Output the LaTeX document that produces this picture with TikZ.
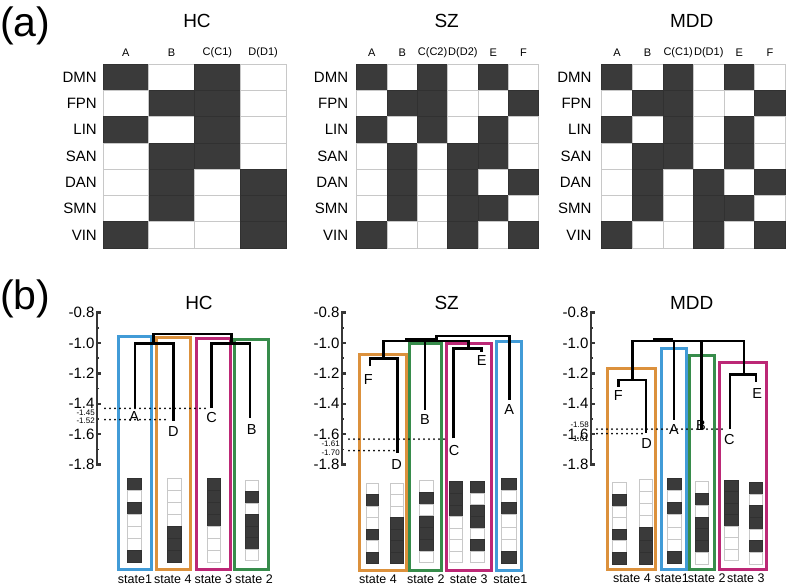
\documentclass[tikz,border=0pt]{standalone}
\usepackage{fontspec}
\setmainfont{Liberation Sans}
\definecolor{celldark}{RGB}{58,58,58}
\definecolor{gridgray}{RGB}{200,200,200}
\definecolor{axgray}{RGB}{55,55,55}
\definecolor{cblue}{RGB}{65,155,215}
\definecolor{corange}{RGB}{220,145,60}
\definecolor{cmag}{RGB}{188,40,118}
\definecolor{cgreen}{RGB}{55,140,75}
\def\patA{1,0,1,0,0,0,1}
\def\patB{0,1,0,1,1,1,0}
\def\patC{1,1,1,1,0,0,0}
\def\patCs{1,1,1,0,0,0,0}
\def\patD{0,0,0,0,1,1,1}
\def\patDs{0,0,0,1,1,1,1}
\def\patE{1,0,1,1,0,1,0}
\def\patF{0,1,0,0,1,0,1}
\tikzset{
  cellw/.style={draw=gridgray, line width=0.7pt, fill=white},
  celld/.style={fill=celldark, draw=celldark!85!black, line width=0.5pt},
  ttl/.style={font=\fontsize{19}{21}\selectfont, inner sep=0pt},
  rowlab/.style={font=\fontsize{15}{17}\selectfont, anchor=east, inner sep=0pt},
  collab/.style={font=\fontsize{11}{13}\selectfont, inner sep=0pt},
  axlab/.style={font=\fontsize{15}{17}\selectfont, anchor=east, inner sep=0pt},
  smlab/.style={font=\fontsize{8}{9}\selectfont, anchor=east, inner sep=0pt},
  leaflab/.style={font=\fontsize{14.5}{16}\selectfont, inner sep=0pt},
  statelab/.style={font=\fontsize{12.5}{14}\selectfont, inner sep=0pt},
  panellab/.style={font=\fontsize{41}{44}\selectfont, inner sep=0pt, anchor=base west},
  dend/.style={line width=2.5pt, black},
  sbox/.style={line width=3pt},
  axline/.style={line width=2.4pt, axgray},
  dots/.style={line width=2pt, line cap=round, dash pattern=on 0pt off 5pt, black},
}
% x, y, w, h, pattern macro
\newcommand\matcol[5]{%
  \foreach \v [count=\k from 0] in #5 {%
    \ifnum\v=1\relax
      \path[celld] (#1,{#2+\k*#4}) rectangle ++(#3,#4);
    \else
      \path[cellw] (#1,{#2+\k*#4}) rectangle ++(#3,#4);
    \fi}}
% axis: x, name prefix
\newcommand\vaxis[2]{%
  \draw[axline] (#1,311) -- (#1,465.5);
  \foreach \k in {0,...,5}{\draw[axline] (#1,{312.5+\k*30.4}) -- ++(4,0);}
  \foreach \k in {0,...,4}{\draw[axline, line width=1.6pt] (#1,{327.7+\k*30.4}) -- ++(2.5,0);}
  \foreach \lab [count=\k from 0] in {-0.8,-1.0,-1.2,-1.4,-1.6,-1.8}{%
    \node[axlab] (#2ax\k) at ({#1-2},{312.5+\k*30.4}) {\lab};}}
\begin{document}
\begin{tikzpicture}[x=1pt,y=-1pt]
\useasboundingbox (0,0) rectangle (788,587);
\fill[white] (0,0) rectangle (788,587);

% ---------------- panel (a) ----------------
\node[panellab] (pa) at (0,36.7) {(a)};
\node[ttl] (tha) at (197,20.8) {HC};
\node[ttl] (tsa) at (446.7,20.8) {SZ};
\node[ttl] (tma) at (691.7,20.8) {MDD};

% HC matrix
\matcol{103}{64}{45.75}{26.29}{\patA}
\matcol{148.75}{64}{45.75}{26.29}{\patB}
\matcol{194.5}{64}{45.75}{26.29}{\patC}
\matcol{240.25}{64}{45.75}{26.29}{\patD}
% SZ matrix
\matcol{356.7}{64}{30.33}{26.29}{\patA}
\matcol{387.03}{64}{30.33}{26.29}{\patB}
\matcol{417.37}{64}{30.33}{26.29}{\patCs}
\matcol{447.7}{64}{30.33}{26.29}{\patDs}
\matcol{478.03}{64}{30.33}{26.29}{\patE}
\matcol{508.37}{64}{30.33}{26.29}{\patF}
% MDD matrix
\matcol{601.7}{64}{30.6}{26.29}{\patA}
\matcol{632.3}{64}{30.6}{26.29}{\patB}
\matcol{662.9}{64}{30.6}{26.29}{\patC}
\matcol{693.5}{64}{30.6}{26.29}{\patD}
\matcol{724.1}{64}{30.6}{26.29}{\patE}
\matcol{754.7}{64}{30.6}{26.29}{\patF}

% row labels
\foreach \r [count=\k from 0] in {DMN,FPN,LIN,SAN,DAN,SMN,VIN}{%
  \node[rowlab] (rh\k) at (97,{77.1+\k*26.29}) {\r};
  \node[rowlab] (rs\k) at (348.3,{77.1+\k*26.29}) {\r};
  \node[rowlab] (rm\k) at (591.7,{77.1+\k*26.29}) {\r};}
% column labels
\foreach \c [count=\k from 0] in {A,B,C(C1),D(D1)}{%
  \node[collab] (ch\k) at ({125.9+\k*45.75},53) {\c};}
\foreach \c [count=\k from 0] in {A,B,C(C2),D(D2),E,F}{%
  \node[collab] (cs\k) at ({371.9+\k*30.33},53) {\c};}
\foreach \c [count=\k from 0] in {A,B,C(C1),D(D1),E,F}{%
  \node[collab] (cm\k) at ({617+\k*30.6},53) {\c};}

% ---------------- panel (b) ----------------
\node[panellab] (pb) at (0,309) {(b)};
\node[ttl] (thb) at (199,303) {HC};
\node[ttl] (tsb) at (446.7,303) {SZ};
\node[ttl] (tmb) at (691.7,303) {MDD};

\vaxis{96.7}{h}
\vaxis{341.7}{s}
\vaxis{590.7}{m}

% small axis labels
\node[smlab] (h145) at (95,413) {-1.45};
\node[smlab] (h152) at (95,420.5) {-1.52};
\node[smlab] (s161) at (340,443.5) {-1.61};
\node[smlab] (s170) at (340,452.5) {-1.70};
\node[smlab] (m158) at (589,424.3) {-1.58};
\node[smlab] (m161) at (589,438.3) {-1.61};

% state boxes
\draw[sbox, cblue]   (118.3,336.7) rectangle (151.7,569.3);
\draw[sbox, corange] (156.7,337.3) rectangle (190,569.3);
\draw[sbox, cmag]    (196,338.3) rectangle (230,569.3);
\draw[sbox, cgreen]  (234.3,339) rectangle (268.3,569.3);

\draw[sbox, corange] (359.3,354) rectangle (406,570);
\draw[sbox, cgreen]  (409.3,343.3) rectangle (441.7,570);
\draw[sbox, cmag]    (446.7,343.3) rectangle (491.7,570);
\draw[sbox, cblue]   (496,341.7) rectangle (521.7,570);

\draw[sbox, corange] (607.7,368.3) rectangle (655,569.3);
\draw[sbox, cblue]   (661.7,348.3) rectangle (686.7,569.3);
\draw[sbox, cgreen]  (689.3,355) rectangle (714,569.3);
\draw[sbox, cmag]    (719.3,362.7) rectangle (766,569.3);

% dotted guide lines
\draw[dots] (105,408.3) -- (205,408.3);
\draw[dots] (105,419.5) -- (167,419.5);
\draw[dots] (349,439) -- (445,439);
\draw[dots] (349,450.5) -- (395,450.5);
\draw[dots] (597,429) -- (726.7,429);
\draw[dots] (597,433.5) -- (646.7,433.5);

% dendrogram HC
\draw[dend] (135,408.3) -- (135,343.3) -- (173.3,343.3) -- (173.3,421);
\draw[dend] (153.3,343.3) -- (153.3,334) -- (231.7,334) -- (231.7,343.3);
\draw[dend] (211.7,407.5) -- (211.7,343.3) -- (250,343.3) -- (250,418.3);
% dendrogram SZ
\draw[dend] (370,366) -- (370,358.3) -- (397.3,358.3) -- (397.3,452.7);
\draw[dend] (383.7,358.3) -- (383.7,341) -- (468.3,341) -- (468.3,348.3);
\draw[dend] (425,341) -- (425,410);
\draw[dend] (453.3,438.3) -- (453.3,348.3) -- (481.7,348.3) -- (481.7,351.7);
\draw[dend] (405,339.5) -- (437,339.5);
\draw[dend] (436.7,341) -- (436.7,336) -- (509.3,336) -- (509.3,400);
% dendrogram MDD
\draw[dend] (618.3,386.7) -- (618.3,380) -- (646,380) -- (646,433.3);
\draw[dend] (632.3,380) -- (632.3,341) -- (744,341) -- (744,374.3);
\draw[dend] (674,341) -- (674,420);
\draw[dend] (701.7,341) -- (701.7,429);
\draw[dend] (730,429.3) -- (730,374.3) -- (756,374.3) -- (756,381.7);
\draw[dend] (653,339) -- (673,339);

% leaf labels
\node[leaflab] (lhA) at (134.3,416.7) {A};
\node[leaflab] (lhD) at (173.3,431.7) {D};
\node[leaflab] (lhC) at (211.7,417.7) {C};
\node[leaflab] (lhB) at (251.7,430) {B};

\node[leaflab] (lsF) at (368.3,379.3) {F};
\node[leaflab] (lsD) at (396.7,465) {D};
\node[leaflab] (lsB) at (425,420) {B};
\node[leaflab] (lsC) at (454,451) {C};
\node[leaflab] (lsE) at (481.7,361) {E};
\node[leaflab] (lsA) at (509.3,410) {A};

\node[leaflab] (lmF) at (618.3,396) {F};
\node[leaflab] (lmD) at (646.7,444) {D};
\node[leaflab] (lmA) at (674,430) {A};
\node[leaflab] (lmB) at (701,426) {B};
\node[leaflab] (lmC) at (729.3,440) {C};
\node[leaflab] (lmE) at (757.3,393.3) {E};

% mini matrices HC
\matcol{127.7}{478.3}{13.3}{12.06}{\patA}
\matcol{167.7}{478.3}{14}{12.06}{\patD}
\matcol{207.3}{478.3}{13.4}{12.06}{\patC}
\matcol{245}{480}{13.3}{11.53}{\patB}
% mini matrices SZ
\matcol{366}{483.3}{12.3}{11.43}{\patF}
\matcol{390}{483.3}{13.3}{11.43}{\patDs}
\matcol{419.3}{480.7}{14}{11.7}{\patB}
\matcol{449.3}{481.7}{13.4}{11.57}{\patCs}
\matcol{470.7}{481.7}{13.3}{11.57}{\patE}
\matcol{501.7}{478.3}{14.3}{12.14}{\patA}
% mini matrices MDD
\matcol{612.7}{482.7}{13.3}{11.6}{\patF}
\matcol{639}{479.3}{13.7}{12.1}{\patD}
\matcol{667.7}{478.3}{14}{12.14}{\patA}
\matcol{695}{481.7}{13.3}{11.76}{\patB}
\matcol{724}{480}{14.3}{11.53}{\patC}
\matcol{749}{482.3}{13.3}{11.67}{\patE}

% state labels
\node[statelab] (sh1) at (135,579.3) {state1};
\node[statelab] (sh4) at (172.8,579.3) {state 4};
\node[statelab] (sh3) at (213.3,579.3) {state 3};
\node[statelab] (sh2) at (254,579.3) {state 2};

\node[statelab] (ss4) at (378,579.3) {state 4};
\node[statelab] (ss2) at (425.8,579.3) {state 2};
\node[statelab] (ss3) at (468.7,579.3) {state 3};
\node[statelab] (ss1) at (510.3,579.3) {state1};

\node[statelab] (sm4) at (632,578.3) {state 4};
\node[statelab] (sm1) at (671.7,578.3) {state1};
\node[statelab] (sm2) at (706.7,578.3) {state 2};
\node[statelab] (sm3) at (745.8,578.3) {state 3};
\end{tikzpicture}
\end{document}
